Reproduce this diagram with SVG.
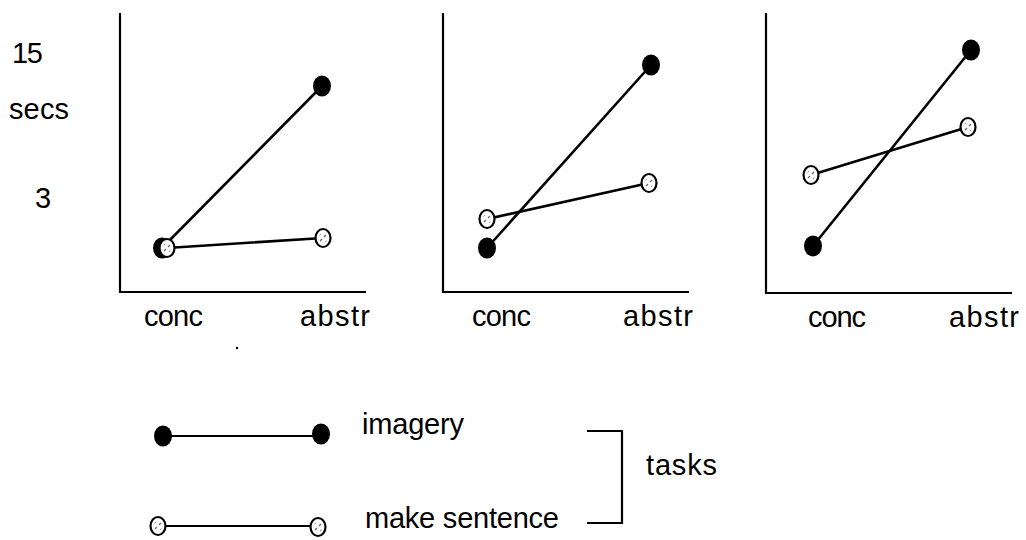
<svg xmlns="http://www.w3.org/2000/svg" xmlns:xlink="http://www.w3.org/1999/xlink" width="1026" height="540" viewBox="0 0 1026 540">
<style>
  text { font-family: "Liberation Sans", Arial, sans-serif; font-size: 29px; fill: #000; }
  .axis { stroke: #000; stroke-width: 2.2; fill: none; }
  .data { stroke: #000; stroke-width: 2.6; fill: none; stroke-linecap: round; }
  .leg { stroke: #000; stroke-width: 2.2; fill: none; }
</style>
<defs>
  <g id="dot">
    <ellipse cx="0" cy="0" rx="9" ry="10.5" fill="#000"/>
  </g>
  <g id="hatch">
    <ellipse cx="0" cy="0" rx="7.5" ry="9" fill="#fff" stroke="#000" stroke-width="2.2"/>
    <line x1="-3" y1="3" x2="-1" y2="1" stroke="#666" stroke-width="1.2"/>
    <line x1="1" y1="-1" x2="3" y2="-3" stroke="#666" stroke-width="1.2"/>
    <line x1="2" y1="4" x2="3.5" y2="2.5" stroke="#999" stroke-width="1"/>
    <line x1="-3.5" y1="-2.5" x2="-2" y2="-4" stroke="#999" stroke-width="1"/>
  </g>
</defs>

<g id="y-labels">
  <text x="12" y="63" textLength="31">15</text>
  <text x="9" y="119" textLength="60">secs</text>
  <text x="35" y="208">3</text>
</g>

<g id="panel1">
  <path class="axis" d="M120,13 V292 H366"/>
  <text x="144" y="326" textLength="59">conc</text>
  <text x="300" y="326" textLength="70">abstr</text>
  <circle cx="237" cy="348" r="1.2" fill="#000"/>
</g>
<g id="panel2">
  <path class="axis" d="M443,13 V292 H689"/>
  <text x="472" y="326" textLength="59">conc</text>
  <text x="623" y="326" textLength="70">abstr</text>
</g>
<g id="panel3">
  <path class="axis" d="M766,13 V293 H1012"/>
  <text x="808" y="327" textLength="58">conc</text>
  <text x="949" y="327" textLength="70">abstr</text>
</g>

<g id="connectors">
  <line class="data" x1="162" y1="248" x2="322" y2="86"/>
  <line class="data" x1="167" y1="248" x2="323" y2="238"/>
  <line class="data" x1="487" y1="248" x2="651" y2="65"/>
  <line class="data" x1="487" y1="219" x2="649" y2="183"/>
  <line class="data" x1="813" y1="246" x2="971" y2="50"/>
  <line class="data" x1="811" y1="175" x2="968" y2="127"/>
  <line class="leg" x1="163" y1="436" x2="321" y2="436"/>
  <line class="leg" x1="158" y1="526" x2="318" y2="526"/>
  <path class="axis" d="M587,431 H622 V523 H587"/>
</g>

<g id="points">
  <use xlink:href="#dot" x="162" y="248"/>
  <use xlink:href="#hatch" x="167" y="248"/>
  <use xlink:href="#dot" x="322" y="86"/>
  <use xlink:href="#hatch" x="323" y="238"/>
  <use xlink:href="#dot" x="487" y="248"/>
  <use xlink:href="#hatch" x="487" y="219"/>
  <use xlink:href="#dot" x="651" y="65"/>
  <use xlink:href="#hatch" x="649" y="183"/>
  <use xlink:href="#dot" x="813" y="246"/>
  <use xlink:href="#hatch" x="811" y="175"/>
  <use xlink:href="#dot" x="971" y="50"/>
  <use xlink:href="#hatch" x="968" y="127"/>
</g>

<g id="legend">
  <use xlink:href="#dot" x="163" y="436"/>
  <use xlink:href="#dot" x="321" y="434"/>
  <use xlink:href="#hatch" x="158" y="526"/>
  <use xlink:href="#hatch" x="318" y="527"/>
  <text x="362" y="434" textLength="102">imagery</text>
  <text x="365" y="528" textLength="194">make sentence</text>
  <text x="646" y="475" textLength="71">tasks</text>
</g>
</svg>
